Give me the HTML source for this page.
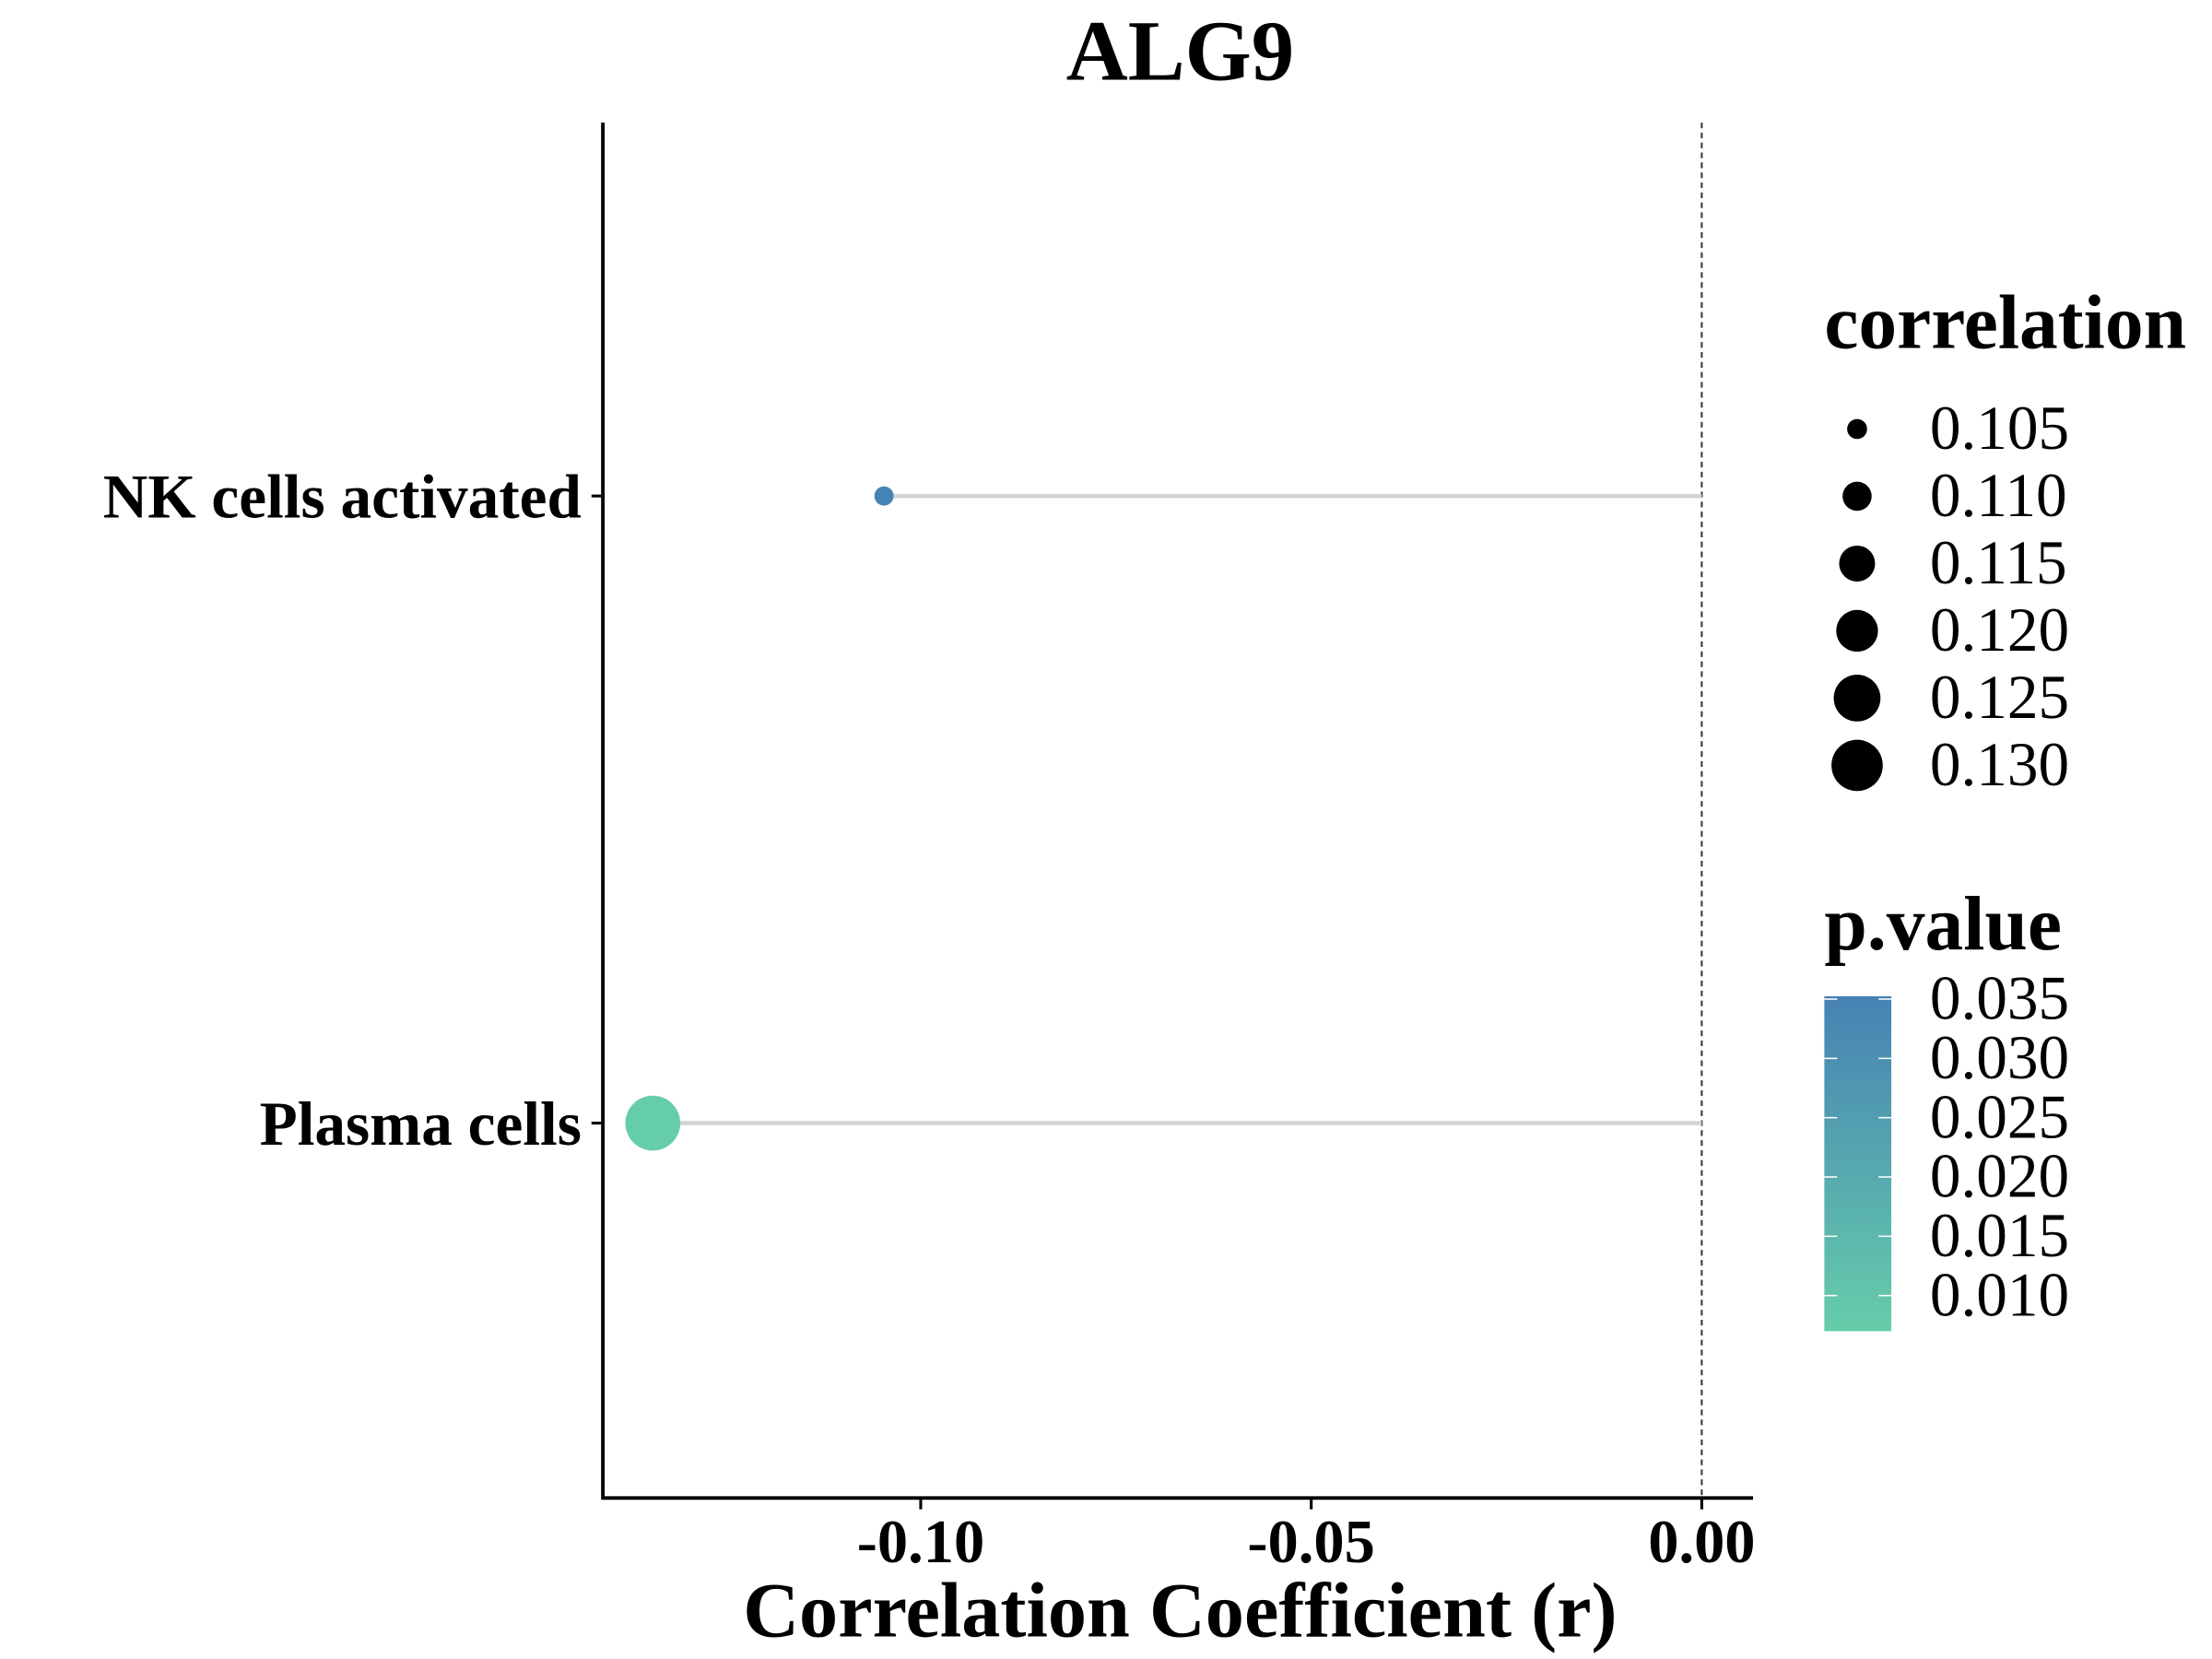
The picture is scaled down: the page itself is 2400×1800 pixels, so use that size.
<!DOCTYPE html>
<html><head><meta charset="utf-8">
<style>
html,body{margin:0;padding:0;background:#fff;}
svg{display:block;}
text{font-family:"Liberation Serif",serif;fill:#000;}
</style></head>
<body>
<svg id="chart" width="2400" height="1800" viewBox="0 0 1552 1164" xmlns="http://www.w3.org/2000/svg">
<text x="828" y="56" font-size="60" font-weight="bold" text-anchor="middle">ALG9</text>
<g id="plot"></g>
<text x="828" y="1148" font-size="54.5" font-weight="bold" text-anchor="middle">Correlation Coefficient (r)</text>
<g id="legend"></g>
</svg>
<script>
const categories = ["NK cells activated", "Plasma cells"];
const rValues = [-0.1047, -0.1343];
const pValues = [0.035, 0.007];
const xTicks = [-0.10, -0.05, 0.00];
const xTickLabels = ["-0.10", "-0.05", "0.00"];
const sizeBreaks = [0.105, 0.110, 0.115, 0.120, 0.125, 0.130];
const sizeLabels = ["0.105", "0.110", "0.115", "0.120", "0.125", "0.130"];
const pBreaks = [0.035, 0.030, 0.025, 0.020, 0.015, 0.010];
const pLabels = ["0.035", "0.030", "0.025", "0.020", "0.015", "0.010"];

const NS = "http://www.w3.org/2000/svg";
const X0 = 423, X1 = 1230, Y0 = 86, Y1 = 1051;
const PMIN = 0.0071, PMAX = 0.0352;
function xScale(v){ return 1194 + v * (274 / 0.05); }
function yScale(i){ return 348 + i * 440; }
function rScale(a){ return Math.sqrt(Math.max(0, 7*7 + (a - 0.105) / 0.025 * (18*18 - 7*7))); }
function lerp(a,b,t){ return Math.round(a + (b - a) * t); }
function colScale(p){
  const t = Math.max(0, Math.min(1, (p - PMIN) / (PMAX - PMIN)));
  return "rgb(" + lerp(102,70,t) + "," + lerp(205,130,t) + "," + lerp(170,180,t) + ")";
}
function pY(p){ return 701 + (0.035 - p) / 0.005 * 41.6; }
function mk(tag, attrs, parent){
  const el = document.createElementNS(NS, tag);
  for (const k in attrs) el.setAttribute(k, attrs[k]);
  parent.appendChild(el);
  return el;
}
const plot = document.getElementById("plot");
const legend = document.getElementById("legend");

let z = mk("line", {x1: xScale(0), x2: xScale(0), y1: Y0, y2: Y1, stroke: "#333", "stroke-width": 1.3, "stroke-dasharray": "4,3"}, plot);



categories.forEach((c, i) => {
  const y = yScale(i);
  const seg = mk("line", {x1: xScale(rValues[i]), x2: xScale(0), y1: y, y2: y, stroke: "#d3d3d3", "stroke-width": 3}, plot);
  
  
  const dot = mk("circle", {cx: xScale(rValues[i]), cy: y, r: rScale(Math.abs(rValues[i])), fill: colScale(pValues[i])}, plot);
  
  
  const tk = mk("line", {x1: 415, x2: X0, y1: y, y2: y, stroke: "#000", "stroke-width": 2}, plot);
  
  
  const lb = mk("text", {x: 408, y: y + 15, "font-size": 43.5, "font-weight": "bold", "text-anchor": "end"}, plot);
  lb.textContent = c;
  
  
});

let ya = mk("line", {x1: X0, x2: X0, y1: Y0, y2: Y1 + 1, stroke: "#000", "stroke-width": 2.5}, plot);


let xa = mk("line", {x1: X0 - 1, x2: X1, y1: Y1, y2: Y1, stroke: "#000", "stroke-width": 2.5}, plot);


xTicks.forEach((v, i) => {
  const x = xScale(v);
  const t = mk("line", {x1: x, x2: x, y1: Y1, y2: Y1 + 8, stroke: "#000", "stroke-width": 2}, plot);
  
  
  const l = mk("text", {x: x, y: 1096, "font-size": 43, "font-weight": "bold", "text-anchor": "middle"}, plot);
  l.textContent = xTickLabels[i];
  
  
});

let st = mk("text", {x: 1280, y: 244, "font-size": 54, "font-weight": "bold"}, legend);
st.textContent = "correlation";


sizeBreaks.forEach((s, i) => {
  const y = 301 + i * 47.2;
  const c = mk("circle", {cx: 1303, cy: y, r: rScale(s), fill: "#000"}, legend);
  
  
  const t = mk("text", {x: 1354, y: y + 14, "font-size": 43.5}, legend);
  t.textContent = sizeLabels[i];
  
  
});

let ct = mk("text", {x: 1280, y: 666, "font-size": 54, "font-weight": "bold"}, legend);
ct.textContent = "p.value";


const defs = mk("defs", {}, legend);
const grad = mk("linearGradient", {id: "pgrad", x1: 0, y1: 0, x2: 0, y2: 1}, defs);
mk("stop", {offset: "0", "stop-color": colScale(PMAX)}, grad);
mk("stop", {offset: "1", "stop-color": colScale(PMIN)}, grad);
let bar = mk("rect", {x: 1280, y: 699, width: 47, height: 235, fill: "url(#pgrad)"}, legend);


pBreaks.forEach((p, i) => {
  const y = pY(p);
  const a = mk("line", {x1: 1280, x2: 1289, y1: y, y2: y, stroke: "#fff", "stroke-width": 1}, legend);
  
  
  const b = mk("line", {x1: 1318, x2: 1327, y1: y, y2: y, stroke: "#fff", "stroke-width": 1}, legend);
  
  
  const t = mk("text", {x: 1354, y: y + 14, "font-size": 43.5}, legend);
  t.textContent = pLabels[i];
  
  
});
</script>
</body></html>
